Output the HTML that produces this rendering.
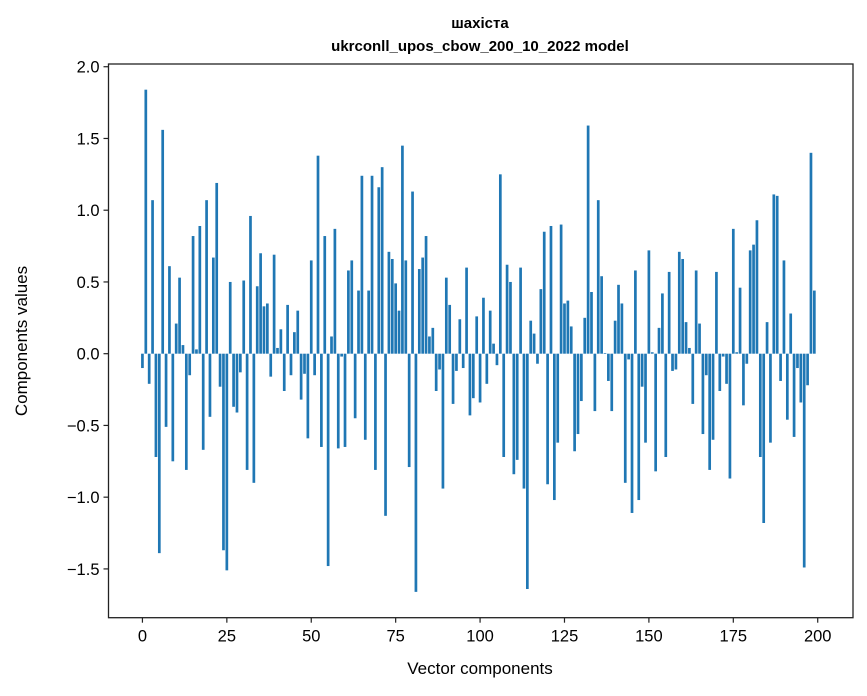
<!DOCTYPE html>
<html><head><meta charset="utf-8"><style>
html,body{margin:0;padding:0;background:#fff;}
svg{display:block;font-family:"Liberation Sans","DejaVu Sans",sans-serif;}
</style></head><body>
<svg id="chart" width="867" height="696" xmlns="http://www.w3.org/2000/svg">
<rect width="867" height="696" fill="#fff"/>
<text x="480" y="28" text-anchor="middle" font-size="15" font-weight="bold">шахіста</text>
<text x="480" y="51" text-anchor="middle" font-size="15" font-weight="bold">ukrconll_upos_cbow_200_10_2022 model</text>
<g id="bars"></g>
<g id="axes"></g>
<text x="480" y="674" text-anchor="middle" font-size="17">Vector components</text>
<text transform="translate(27,341) rotate(-90)" text-anchor="middle" font-size="17">Components values</text>
</svg>
<script>
const values = [
-0.10,1.84,-0.21,1.07,-0.72,-1.39,1.56,-0.51,0.61,-0.75,
0.21,0.53,0.06,-0.81,-0.15,0.82,0.03,0.89,-0.67,1.07,
-0.44,0.67,1.19,-0.23,-1.37,-1.51,0.50,-0.37,-0.41,-0.13,
0.51,-0.81,0.96,-0.90,0.47,0.70,0.33,0.35,-0.16,0.69,
0.04,0.17,-0.26,0.34,-0.15,0.15,0.30,-0.32,-0.14,-0.59,
0.65,-0.15,1.38,-0.65,0.82,-1.48,0.12,0.87,-0.66,-0.02,
-0.65,0.58,0.65,-0.45,0.44,1.24,-0.60,0.44,1.24,-0.81,
1.16,1.30,-1.13,0.71,0.66,0.49,0.30,1.45,0.65,-0.79,
1.13,-1.66,0.59,0.67,0.82,0.12,0.18,-0.26,-0.11,-0.94,
0.53,0.34,-0.35,-0.12,0.24,-0.10,0.60,-0.43,-0.31,0.26,
-0.34,0.39,-0.21,0.30,0.07,-0.08,1.25,-0.72,0.62,0.50,
-0.84,-0.74,0.60,-0.94,-1.64,0.23,0.14,-0.07,0.45,0.85,
-0.91,0.89,-1.02,-0.62,0.90,0.35,0.37,0.19,-0.68,-0.56,
-0.33,0.25,1.59,0.43,-0.40,1.07,0.54,0.005,-0.19,-0.40,
0.23,0.48,0.35,-0.90,-0.04,-1.11,0.58,-1.02,-0.23,-0.62,
0.72,0.01,-0.82,0.18,0.42,-0.72,0.57,-0.12,-0.11,0.71,
0.66,0.22,0.04,-0.35,0.58,0.21,-0.56,-0.15,-0.81,-0.60,
0.57,-0.26,-0.02,-0.21,-0.87,0.87,0.01,0.46,-0.36,-0.07,
0.72,0.76,0.93,-0.72,-1.18,0.22,-0.62,1.11,1.10,-0.19,
0.65,-0.46,0.28,-0.58,-0.10,-0.34,-1.49,-0.22,1.40,0.44
];
const xTicks = [0,25,50,75,100,125,150,175,200];
const yTicks = [-1.5,-1.0,-0.5,0.0,0.5,1.0,1.5,2.0];
const yTickLabels = ["−1.5","−1.0","−0.5","0.0","0.5","1.0","1.5","2.0"];

const L=108.5,R=853,T=64,B=617.7;
const xMin=-10.05,xMax=210.45,yMin=-1.84,yMax=2.019;
function xs(v){return L+(v-xMin)/(xMax-xMin)*(R-L);}
function ys(v){return B-(v-yMin)/(yMax-yMin)*(B-T);}
const NS="http://www.w3.org/2000/svg";
const gb=document.getElementById('bars');
values.forEach((v,i)=>{
  const r=document.createElementNS(NS,'rect');
  const x0=xs(i-0.4),x1=xs(i+0.4);
  const y0=ys(Math.max(v,0)),y1=ys(Math.min(v,0));
  r.setAttribute('x',x0);r.setAttribute('width',x1-x0);
  r.setAttribute('y',y0);r.setAttribute('height',Math.max(y1-y0,0.3));
  r.setAttribute('fill','#1f77b4');
  
  
  gb.appendChild(r);
});
const ga=document.getElementById('axes');
const frame=document.createElementNS(NS,'rect');
frame.setAttribute('x',L);frame.setAttribute('y',T);
frame.setAttribute('width',R-L);frame.setAttribute('height',B-T);
frame.setAttribute('fill','none');frame.setAttribute('stroke','#222');frame.setAttribute('stroke-width','1.3');


ga.appendChild(frame);
xTicks.forEach(t=>{
  const x=xs(t);
  const l=document.createElementNS(NS,'line');
  l.setAttribute('x1',x);l.setAttribute('x2',x);l.setAttribute('y1',B);l.setAttribute('y2',B+5);
  l.setAttribute('stroke','#222');l.setAttribute('stroke-width','1.2');
  
  
  ga.appendChild(l);
  const tx=document.createElementNS(NS,'text');
  tx.setAttribute('x',x);tx.setAttribute('y',B+24);tx.setAttribute('text-anchor','middle');tx.setAttribute('font-size','16.5');
  tx.textContent=String(t);
  
  
  ga.appendChild(tx);
});
yTicks.forEach((t,i)=>{
  const y=ys(t);
  const l=document.createElementNS(NS,'line');
  l.setAttribute('x1',L-5);l.setAttribute('x2',L);l.setAttribute('y1',y);l.setAttribute('y2',y);
  l.setAttribute('stroke','#222');l.setAttribute('stroke-width','1.2');
  
  
  ga.appendChild(l);
  const tx=document.createElementNS(NS,'text');
  tx.setAttribute('x',L-9);tx.setAttribute('y',y+6);tx.setAttribute('text-anchor','end');tx.setAttribute('font-size','16.5');
  tx.textContent=yTickLabels[i];
  
  
  ga.appendChild(tx);
});
</script>
</body></html>
